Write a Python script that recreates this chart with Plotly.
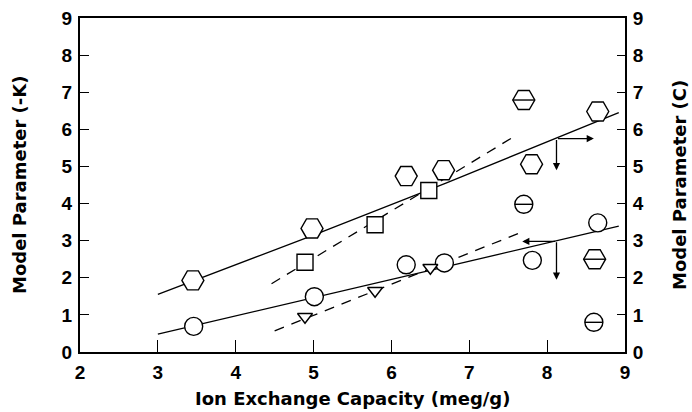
import plotly.graph_objects as go

# ---------------- data ----------------
hex_x = [3.45, 4.98, 6.19, 6.67, 7.80, 8.65]
hex_y = [1.93, 3.33, 4.74, 4.90, 5.06, 6.48]

hexbar_x = [7.70, 8.61]
hexbar_y = [6.79, 2.50]

sq_x = [4.89, 5.79, 6.48]
sq_y = [2.42, 3.43, 4.35]

circ_x = [3.46, 5.01, 6.19, 6.68, 7.81, 8.65]
circ_y = [0.69, 1.49, 2.35, 2.40, 2.47, 3.48]

circbar_x = [7.70, 8.60]
circbar_y = [3.98, 0.80]

tri_x = [4.89, 5.79, 6.50]
tri_y = [0.95, 1.65, 2.27]

fitK_x = [3.0, 5.0, 6.7, 8.92]
fitK_y = [1.55, 3.15, 4.55, 6.45]
fitC_x = [3.0, 5.0, 6.7, 8.92]
fitC_y = [0.48, 1.46, 2.30, 3.39]
dashK_x = [4.46, 7.54]
dashK_y = [1.84, 5.76]
dashC_x = [4.50, 7.72]
dashC_y = [0.57, 3.27]

# arrows: (tail x, tail y, head x, head y)
arrows = [
    (8.12, 5.75, 8.12, 4.90),
    (8.12, 5.75, 8.60, 5.75),
    (8.12, 3.00, 8.12, 1.95),
    (8.12, 2.98, 7.68, 2.98),
]

x_ticks = [2, 3, 4, 5, 6, 7, 8, 9]
y_ticks = [0, 1, 2, 3, 4, 5, 6, 7, 8, 9]

x_title = "Ion Exchange Capacity (meg/g)"
yl_title = "Model Parameter (-K)"
yr_title = "Model Parameter (C)"

# ---------------- figure ----------------
BLACK = "black"
fig = go.Figure()

def line_trace(x, y, dash="solid"):
    fig.add_trace(go.Scatter(x=x, y=y, mode="lines",
                             line=dict(color=BLACK, width=1.3, dash=dash),
                             hoverinfo="skip", showlegend=False))

line_trace(fitK_x, fitK_y)
line_trace(fitC_x, fitC_y)
line_trace(dashK_x, dashK_y, dash="10px,8px")
line_trace(dashC_x, dashC_y, dash="10px,8px")

def marker_trace(x, y, symbol, size):
    fig.add_trace(go.Scatter(x=x, y=y, mode="markers",
                             marker=dict(symbol=symbol, size=size, color="white",
                                         line=dict(color=BLACK, width=1.4)),
                             showlegend=False))

marker_trace(hex_x, hex_y, "hexagon2", 22)
marker_trace(hexbar_x, hexbar_y, "hexagon2", 22)
marker_trace(sq_x, sq_y, "square", 16)
marker_trace(circ_x, circ_y, "circle", 18)
marker_trace(circbar_x, circbar_y, "circle", 18)
marker_trace(tri_x, tri_y, "triangle-down", 13)

# bars across crossed symbols
fig.add_trace(go.Scatter(x=hexbar_x, y=hexbar_y, mode="markers",
                         marker=dict(symbol="line-ew", size=22 / 1.4,
                                     line=dict(color=BLACK, width=1.4)),
                         showlegend=False))
fig.add_trace(go.Scatter(x=circbar_x, y=circbar_y, mode="markers",
                         marker=dict(symbol="line-ew", size=18 / 1.4,
                                     line=dict(color=BLACK, width=1.4)),
                         showlegend=False))

# dummy trace on right axis
fig.add_trace(go.Scatter(x=[2], y=[0], yaxis="y2", mode="markers",
                         marker=dict(opacity=0), showlegend=False, hoverinfo="skip"))

for tx, ty, hx, hy in arrows:
    fig.add_annotation(x=hx, y=hy, ax=tx, ay=ty, xref="x", yref="y",
                       axref="x", ayref="y", showarrow=True, arrowhead=2,
                       arrowsize=1.1, arrowwidth=1.3, arrowcolor=BLACK, text="")

tickfont = dict(family="Liberation Sans, Arial, sans-serif", size=19, color=BLACK, weight="bold")
titlefont = dict(family="DejaVu Sans, sans-serif", size=18, color=BLACK, weight="bold")

# axis titles as annotations (fixed pixel placement)
fig.add_annotation(text=x_title, xref="paper", yref="paper", x=0.5, y=0,
                   xanchor="center", yanchor="middle", yshift=-46,
                   showarrow=False, font=titlefont)
fig.add_annotation(text=yl_title, xref="paper", yref="paper", x=0, y=0.5,
                   xanchor="center", yanchor="middle", xshift=-61, textangle=-90,
                   showarrow=False, font=titlefont)
fig.add_annotation(text=yr_title, xref="paper", yref="paper", x=1, y=0.5,
                   xanchor="center", yanchor="middle", xshift=54, textangle=-90,
                   showarrow=False, font=titlefont)

fig.update_layout(
    width=692, height=412,
    margin=dict(l=80, r=67, t=18, b=60),
    paper_bgcolor="white", plot_bgcolor="white",
    xaxis=dict(range=[2, 9], tickvals=x_ticks, ticktext=[str(v) for v in x_ticks],
               ticks="inside", ticklen=12, tickwidth=1.3, tickcolor=BLACK,
               showline=True, linecolor=BLACK, linewidth=2, mirror=True,
               showgrid=False, zeroline=False, tickfont=tickfont,
               ticklabelstandoff=2, automargin=False),
    yaxis=dict(range=[0, 9], tickvals=y_ticks, ticktext=[str(v) for v in y_ticks],
               ticks="inside", ticklen=9, tickwidth=1.3, tickcolor=BLACK,
               showline=True, linecolor=BLACK, linewidth=2,
               showgrid=False, zeroline=False, tickfont=tickfont,
               ticklabelstandoff=2, automargin=False),
    yaxis2=dict(range=[0, 9], tickvals=y_ticks, ticktext=[str(v) for v in y_ticks],
                overlaying="y", side="right",
                ticks="inside", ticklen=8, tickwidth=1.3, tickcolor=BLACK,
                showline=True, linecolor=BLACK, linewidth=2,
                showgrid=False, zeroline=False, tickfont=tickfont,
                ticklabelstandoff=2, automargin=False),
)

fig.write_html("out.html")
